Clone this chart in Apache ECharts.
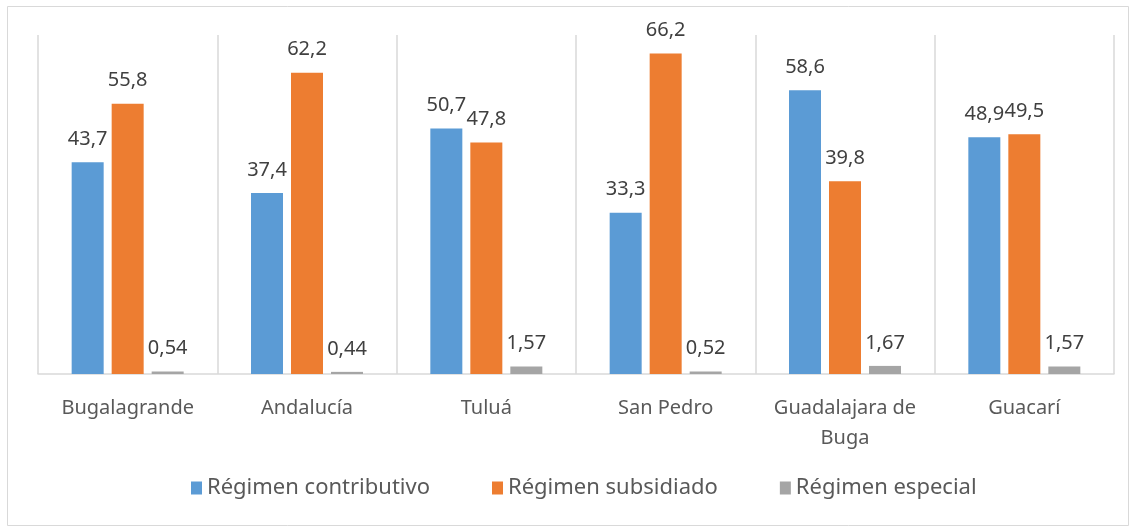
<!DOCTYPE html>
<html>
<head>
<meta charset="utf-8">
<script src="https://cdn.jsdelivr.net/npm/echarts@6/dist/echarts.min.js"></script>
<style>
  html, body { margin: 0; padding: 0; background: #fff; }
  #chart { width: 1133px; height: 528px; }
</style>
</head>
<body>
<div id="chart"></div>
<script>
// municipios
const municipios = ['Bugalagrande', 'Andalucía', 'Tuluá', 'San Pedro', 'Guadalajara de\nBuga', 'Guacarí'];
const contributivo = [43.7, 37.4, 50.7, 33.3, 58.6, 48.9];
const subsidiado = [55.8, 62.2, 47.8, 66.2, 39.8, 49.5];
const especial = [0.54, 0.44, 1.57, 0.52, 1.67, 1.57];

const fontFamily = "'Noto Sans', 'Open Sans', sans-serif";
const textColor = '#595959';

function fmt(v) {
  return String(v).replace('.', ',');
}

function serie(name, data, color) {
  return {
    name: name,
    type: 'bar',
    data: data,
    barWidth: 32,
    barGap: '25%',
    itemStyle: { color: color },
    label: {
      show: true,
      position: 'top',
      distance: 13,
      color: '#404040',
      fontSize: 20,
      fontFamily: fontFamily,
      formatter: p => fmt(p.value)
    }
  };
}

const chart = echarts.init(document.getElementById('chart'), null, { renderer: 'canvas' });
chart.setOption({
  backgroundColor: '#fff',
  animation: false,
  graphic: [{
    type: 'rect',
    shape: { x: 7.5, y: 6.5, width: 1121, height: 519 },
    style: { fill: 'none', stroke: '#d9d9d9', lineWidth: 1 },
    z: -1
  }],
  grid: { left: 38, right: 19, top: 35, bottom: 154 },
  legend: {
    bottom: 24,
    left: 186,
    itemWidth: 11,
    itemHeight: 13,
    itemGap: 62,
    icon: 'rect',
    textStyle: { color: textColor, fontSize: 22, fontFamily: fontFamily }
  },
  xAxis: {
    type: 'category',
    data: municipios,
    axisLine: { lineStyle: { color: '#d9d9d9', width: 1.5 } },
    axisTick: { show: false },
    splitLine: { show: true, interval: 0, lineStyle: { color: '#d9d9d9', width: 1.5 } },
    axisLabel: {
      interval: 0,
      margin: 19,
      color: textColor,
      fontSize: 20,
      lineHeight: 30,
      fontFamily: fontFamily
    }
  },
  yAxis: {
    type: 'value',
    min: 0,
    max: 70,
    show: false,
    splitLine: { show: false }
  },
  series: [
    serie('Régimen contributivo', contributivo, '#5b9bd5'),
    serie('Régimen subsidiado', subsidiado, '#ed7d31'),
    serie('Régimen especial', especial, '#a5a5a5')
  ]
});
</script>
</body>
</html>
